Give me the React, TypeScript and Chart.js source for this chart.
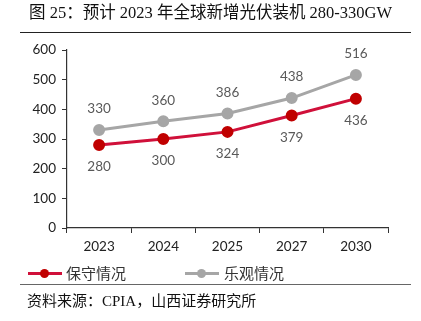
import React, { useEffect, useRef } from "react";
import { Chart, registerables } from "chart.js";
Chart.register(...registerables);

const categories = ["2023", "2024", "2025", "2027", "2030"];
const conservative = [280, 300, 324, 379, 436];
const optimistic = [330, 360, 386, 438, 516];
const seriesNames = ["保守情况", "乐观情况"];
const yTicks = [0, 100, 200, 300, 400, 500, 600];

const RED_LINE = "#D0103A";
const RED_POINT = "#C00000";
const GRAY = "#A6A6A6";

const labelPlugin = {
  id: "valueLabels",
  afterDatasetsDraw(chart: any) {
    const ctx = chart.ctx;
    ctx.save();
    ctx.font = "13.5px Lato, 'Open Sans', sans-serif";
    ctx.fillStyle = "#595959";
    ctx.textAlign = "center";
    ctx.textBaseline = "middle";
    chart.data.datasets.forEach((ds: any, i: number) => {
      const meta = chart.getDatasetMeta(i);
      meta.data.forEach((pt: any, j: number) => {
        const off = i === 0 ? 22 : -21;
        ctx.fillText(String(ds.data[j]), pt.x, pt.y + off);
      });
    });
    ctx.restore();
  },
};

export default function App() {
  const ref = useRef<HTMLCanvasElement>(null);
  useEffect(() => {
    document.body.style.margin = "0";
    const chart = new Chart(ref.current!, {
      type: "line",
      data: {
        labels: categories,
        datasets: [
          {
            label: seriesNames[0],
            data: conservative,
            borderColor: RED_LINE,
            backgroundColor: RED_POINT,
            pointBackgroundColor: RED_POINT,
            pointBorderColor: RED_POINT,
            borderWidth: 3,
            pointRadius: 4.5,
          },
          {
            label: seriesNames[1],
            data: optimistic,
            borderColor: GRAY,
            backgroundColor: GRAY,
            pointBackgroundColor: GRAY,
            pointBorderColor: GRAY,
            borderWidth: 3,
            pointRadius: 4.5,
          },
        ],
      },
      options: {
        animation: false,
        responsive: false,
        layout: { padding: { left: 0, right: 33, top: 50, bottom: 63 } },
        plugins: { legend: { display: false }, tooltip: { enabled: false } },
        scales: {
          x: {
            offset: true,
            grid: { offset: true, drawOnChartArea: false, drawTicks: true, tickLength: 5, color: "#333" },
            border: { display: true, color: "#333", width: 1.2 },
            ticks: { color: "#222", font: { size: 13.5, family: "Lato, 'Open Sans', sans-serif" }, padding: 6, maxRotation: 0 },
            afterFit(scale: any) { scale.height = 30; },
          },
          y: {
            min: 0,
            max: 600,
            afterBuildTicks(scale: any) { scale.ticks = yTicks.map((v) => ({ value: v })); },
            grid: { drawOnChartArea: false, drawTicks: true, tickLength: 5, color: "#333" },
            border: { display: true, color: "#333", width: 1.2 },
            ticks: { color: "#222", font: { size: 13.5, family: "Lato, 'Open Sans', sans-serif" }, padding: 6 },
            afterFit(scale: any) { scale.width = 67; },
          },
        },
      },
      plugins: [labelPlugin],
    });
    return () => chart.destroy();
  }, []);

  const serif = "'Liberation Serif', 'Times New Roman', 'Noto Sans CJK SC', serif";
  return (
    <div style={{ position: "relative", width: 421, height: 321, background: "#fff", overflow: "hidden" }}>
      <canvas ref={ref} width={421} height={321} style={{ position: "absolute", left: 0, top: 0 }} />
      <div style={{ position: "absolute", left: 0, width: 421, top: 3, textAlign: "center", fontFamily: serif, fontSize: 16.5, color: "#111", lineHeight: "20px" }}>
        图 25：预计 2023 年全球新增光伏装机 280-330GW
      </div>
      <div style={{ position: "absolute", left: 20, width: 391, top: 32, height: 0, borderTop: "1px solid #222" }} />
      {/* legend */}
      <div style={{ position: "absolute", left: 28, top: 272, width: 34, height: 0, borderTop: `3px solid ${RED_LINE}` }} />
      <div style={{ position: "absolute", left: 40, top: 269, width: 9, height: 9, borderRadius: "50%", background: RED_POINT }} />
      <div style={{ position: "absolute", left: 66, top: 263, fontFamily: "'Noto Sans CJK SC', sans-serif", fontSize: 15, color: "#333", lineHeight: "19px" }}>{seriesNames[0]}</div>
      <div style={{ position: "absolute", left: 185, top: 272, width: 34, height: 0, borderTop: `3px solid ${GRAY}` }} />
      <div style={{ position: "absolute", left: 197, top: 269, width: 9, height: 9, borderRadius: "50%", background: GRAY }} />
      <div style={{ position: "absolute", left: 224, top: 263, fontFamily: "'Noto Sans CJK SC', sans-serif", fontSize: 15, color: "#333", lineHeight: "19px" }}>{seriesNames[1]}</div>
      <div style={{ position: "absolute", left: 20, width: 391, top: 284, height: 0, borderTop: "1px solid #666" }} />
      <div style={{ position: "absolute", left: 27, top: 291, fontFamily: serif, fontSize: 15, color: "#111", lineHeight: "20px" }}>
        资料来源：CPIA，山西证券研究所
      </div>
    </div>
  );
}
